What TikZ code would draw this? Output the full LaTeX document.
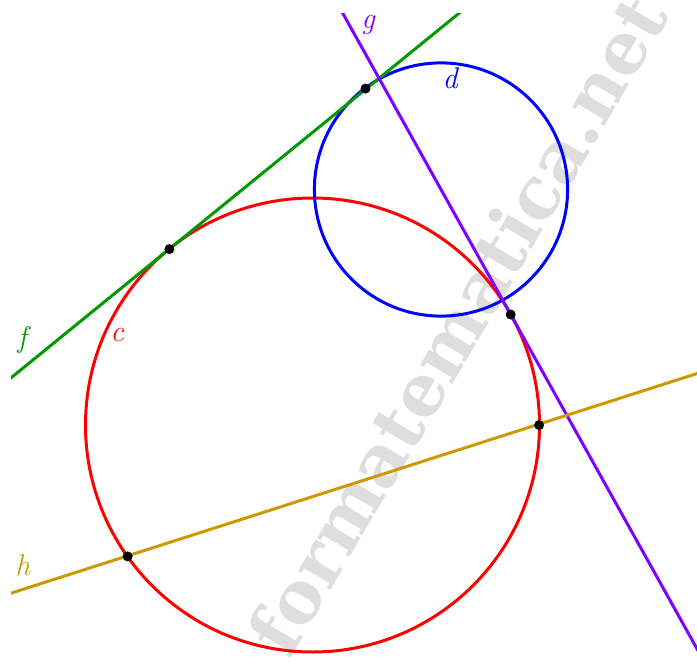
\documentclass[tikz,border=0pt]{standalone}
\usepackage{fontspec}
\usepackage{xcolor}
\usepackage{tikz}
\usetikzlibrary{calc}
\newfontfamily\markfont{DejaVu Serif}
\definecolor{ggred}{RGB}{255,0,0}
\definecolor{ggblue}{RGB}{0,0,255}
\definecolor{gggreen}{RGB}{0,153,0}
\definecolor{ggviolet}{RGB}{127,0,255}
\definecolor{gggold}{RGB}{204,153,0}
\definecolor{markgray}{RGB}{222,222,222}
\tikzset{
  circc/.style={draw=ggred, line width=3pt},
  circd/.style={draw=ggblue, line width=3pt},
  linef/.style={draw=gggreen, line width=3pt},
  lineg/.style={draw=ggviolet, line width=3pt},
  lineh/.style={draw=gggold, line width=3pt},
  dot/.style={circle, fill=black, inner sep=0pt, minimum size=10pt},
  lbl/.style={font=\fontsize{30}{30}\selectfont\itshape, inner sep=0pt},
  watermark/.style={text=markgray, font=\fontsize{72}{72}\selectfont\markfont\bfseries, rotate=59.4, anchor=mid, inner sep=0pt},
}
\begin{document}
\begin{tikzpicture}[x=1pt, y=-1pt]
\useasboundingbox (0,0) rectangle (697,662);
\node[watermark] (mark) at (478,337) {formatematica.net};

\coordinate (C) at (312.5,425);
\coordinate (D) at (441,189.5);
\coordinate (f1) at (0,386.8);
\coordinate (f2) at (475.3,0);
\coordinate (g1) at (335.4,0);
\coordinate (g2) at (710,672.1);
\coordinate (h1) at (0,596.7);
\coordinate (h2) at (710,369.4);

\begin{scope}
\clip (11,13) rectangle (697,662);
\draw[circc] (C) circle [radius=227];
\draw[circd] (D) circle [radius=126.6];
\draw[linef] (f1) -- (f2);
\draw[lineg] (g1) -- (g2);
\draw[lineh] (h1) -- (h2);
\end{scope}

% points of contact and of intersection
\node[dot] (T1) at (169.4,249.1) {};
\node[dot] (T2) at (365.5,88.6) {};
\node[dot] (P) at (510.7,314.5) {};
\node[dot] (H1) at (127.6,556.4) {};
\node[dot] (H2) at (539.1,425.1) {};

\node[lbl, text=gggreen] (labf) at (22,340) {f};
\node[lbl, text=ggred] (labc) at (117,335) {c};
\node[lbl, text=ggviolet] (labg) at (368,25) {g};
\node[lbl, text=ggblue] (labd) at (450,78) {d};
\node[lbl, text=gggold] (labh) at (23,565) {h};
\end{tikzpicture}
\end{document}
